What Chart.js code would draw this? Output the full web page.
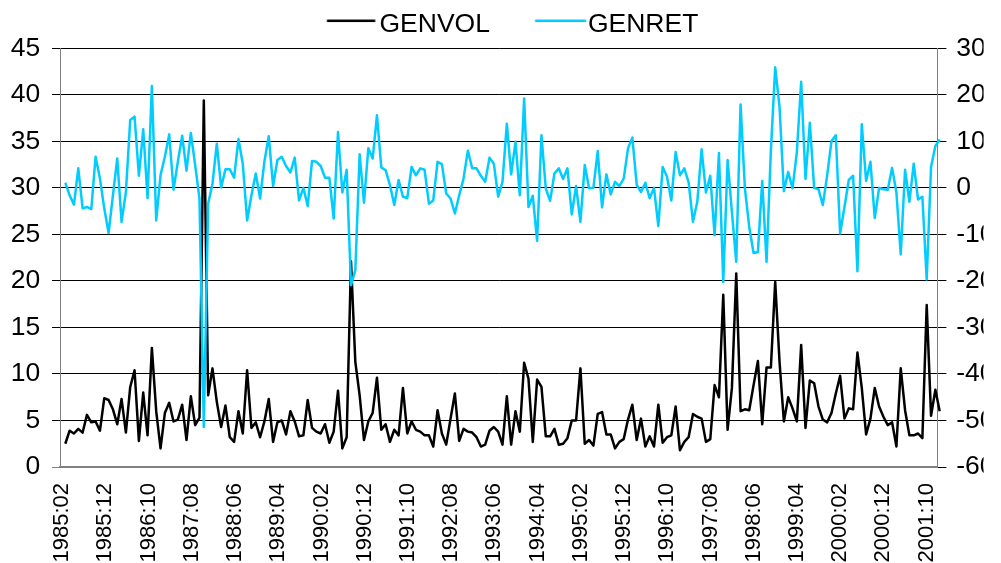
<!DOCTYPE html>
<html><head><meta charset="utf-8">
<script src="https://cdn.jsdelivr.net/npm/chart.js@4.4.1/dist/chart.umd.min.js"></script>
<style>html,body{margin:0;padding:0;background:#fff;overflow:hidden}canvas{display:block}</style>
</head><body>
<canvas id="c" width="1001" height="563"></canvas>
<script>
const months = [
'1985:02','1985:03','1985:04','1985:05','1985:06','1985:07','1985:08','1985:09','1985:10','1985:11','1985:12',
'1986:01','1986:02','1986:03','1986:04','1986:05','1986:06','1986:07','1986:08','1986:09','1986:10','1986:11','1986:12',
'1987:01','1987:02','1987:03','1987:04','1987:05','1987:06','1987:07','1987:08','1987:09','1987:10','1987:11','1987:12',
'1988:01','1988:02','1988:03','1988:04','1988:05','1988:06','1988:07','1988:08','1988:09','1988:10','1988:11','1988:12',
'1989:01','1989:02','1989:03','1989:04','1989:05','1989:06','1989:07','1989:08','1989:09','1989:10','1989:11','1989:12',
'1990:01','1990:02','1990:03','1990:04','1990:05','1990:06','1990:07','1990:08','1990:09','1990:10','1990:11','1990:12',
'1991:01','1991:02','1991:03','1991:04','1991:05','1991:06','1991:07','1991:08','1991:09','1991:10','1991:11','1991:12',
'1992:01','1992:02','1992:03','1992:04','1992:05','1992:06','1992:07','1992:08','1992:09','1992:10','1992:11','1992:12',
'1993:01','1993:02','1993:03','1993:04','1993:05','1993:06','1993:07','1993:08','1993:09','1993:10','1993:11','1993:12',
'1994:01','1994:02','1994:03','1994:04','1994:05','1994:06','1994:07','1994:08','1994:09','1994:10','1994:11','1994:12',
'1995:01','1995:02','1995:03','1995:04','1995:05','1995:06','1995:07','1995:08','1995:09','1995:10','1995:11','1995:12',
'1996:01','1996:02','1996:03','1996:04','1996:05','1996:06','1996:07','1996:08','1996:09','1996:10','1996:11','1996:12',
'1997:01','1997:02','1997:03','1997:04','1997:05','1997:06','1997:07','1997:08','1997:09','1997:10','1997:11','1997:12',
'1998:01','1998:02','1998:03','1998:04','1998:05','1998:06','1998:07','1998:08','1998:09','1998:10','1998:11','1998:12',
'1999:01','1999:02','1999:03','1999:04','1999:05','1999:06','1999:07','1999:08','1999:09','1999:10','1999:11','1999:12',
'2000:01','2000:02','2000:03','2000:04','2000:05','2000:06','2000:07','2000:08','2000:09','2000:10','2000:11','2000:12',
'2001:01','2001:02','2001:03','2001:04','2001:05','2001:06','2001:07','2001:08','2001:09','2001:10','2001:11','2001:12'
];
const tickLabels = ['1985:02','1985:12','1986:10','1987:08','1988:06','1989:04','1990:02','1990:12','1991:10','1992:08','1993:06','1994:04','1995:02','1995:12','1996:10','1997:08','1998:06','1999:04','2000:02','2000:12','2001:10'];
const genvol = [
2.5,3.9,3.6,4.1,3.7,5.6,4.8,4.9,3.9,7.4,7.2,6.2,4.6,7.3,3.7,8.6,10.4,2.8,8.0,3.4,
12.8,6.0,2.0,5.8,6.9,4.9,5.1,6.7,2.9,7.6,4.5,5.3,39.4,7.7,10.6,7.0,4.3,6.6,3.2,2.7,
6.0,3.6,10.4,4.2,4.8,3.2,4.9,7.3,2.7,4.8,5.0,3.5,6.0,4.9,3.3,3.4,7.2,4.2,3.8,3.6,
4.6,2.6,3.8,8.2,2.0,3.2,22.1,11.3,7.7,2.9,4.9,5.8,9.6,4.0,4.6,2.7,4.0,3.4,8.5,3.6,
4.9,4.0,3.8,3.4,3.4,2.2,6.1,3.6,2.4,5.2,7.9,2.8,4.1,3.8,3.7,3.2,2.2,2.4,3.9,4.3,
3.8,2.4,7.6,2.4,6.0,3.8,11.2,9.5,2.7,9.4,8.6,3.3,3.3,4.1,2.4,2.5,3.1,5.0,5.0,10.6,
2.5,2.9,2.3,5.7,5.9,3.5,3.5,2.0,2.7,3.0,5.1,6.7,2.9,5.2,2.2,3.3,2.2,6.7,2.6,3.2,
3.4,6.5,1.8,2.7,3.2,5.7,5.4,5.2,2.7,3.0,8.8,7.5,18.5,4.0,8.5,20.8,6.0,6.2,6.1,8.8,
11.4,4.6,10.7,10.7,19.9,11.3,4.9,7.5,6.3,4.9,13.1,4.2,9.3,9.0,6.5,5.1,4.8,5.8,7.9,9.8,
5.2,6.3,6.2,12.3,8.5,3.5,5.2,8.5,6.5,5.4,4.5,4.8,2.2,10.6,6.1,3.4,3.4,3.6,3.1,17.4,
5.5,8.3,6.0
];
const genret = [
1.1,-1.6,-3.6,4.2,-4.4,-4.1,-4.6,6.7,2.0,-4.4,-9.7,-1.6,6.3,-7.3,-0.9,14.6,15.3,2.6,12.6,-2.2,
21.9,-7.0,2.7,6.7,11.5,-0.4,5.6,11.2,3.7,11.8,4.9,-2.3,-51.4,-3.4,0.9,9.5,0.1,4.0,4.0,2.2,
10.5,5.2,-7.0,-1.6,3.1,-2.3,5.7,11.1,0.4,6.0,6.7,4.7,3.3,6.5,-2.7,0.0,-3.9,5.8,5.6,4.7,
2.2,2.2,-6.6,12.0,-1.0,3.9,-20.9,-17.7,7.2,-3.2,8.5,6.3,15.6,4.4,3.8,0.6,-3.7,1.7,-1.9,-2.2,
4.5,2.7,4.2,3.9,-3.4,-2.7,5.6,5.1,-1.2,-2.3,-5.5,-1.6,2.0,8.0,4.2,4.2,2.6,1.3,6.5,5.2,
-1.9,1.3,13.8,2.9,9.9,-1.6,19.2,-4.1,-1.7,-11.4,11.3,-0.1,-2.8,3.1,4.2,1.9,4.2,-5.7,0.4,-7.3,
4.9,-0.1,0.0,7.9,-4.2,2.9,-1.4,1.3,0.4,2.0,8.5,10.8,0.7,-0.9,1.1,-2.2,0.0,-8.2,4.5,2.4,
-2.7,7.7,2.7,4.2,1.2,-7.3,-3.0,8.3,-1.0,2.6,-10.2,7.5,-20.2,6.0,-5.2,-15.9,17.9,-0.1,-8.4,-14.0,
-13.8,1.5,-15.9,8.0,25.9,17.4,-0.7,3.4,-0.1,7.7,22.8,1.9,14.0,0.0,-0.3,-3.7,2.7,10.0,11.3,-9.8,
-4.1,1.7,2.6,-17.9,13.7,1.5,5.6,-6.5,0.0,-0.3,-0.4,4.3,-1.0,-14.3,3.9,-3.0,5.2,-2.5,-1.9,-19.7,
4.5,9.0,10.4
];

const FONT = "'Liberation Sans', Arial, sans-serif";
const BLACK = '#000000';
const CYAN = '#00CCFF';

function legendLine(color, x0, x1) {
  const c = document.createElement('canvas');
  c.width = 108; c.height = 20;
  const g = c.getContext('2d');
  g.strokeStyle = color; g.lineWidth = 2.5;
  g.beginPath(); g.moveTo(x0, 5.8); g.lineTo(x1, 5.8); g.stroke();
  return c;
}
const legendImgs = [legendLine(BLACK, 55.2, 103.5), legendLine(CYAN, 54.8, 105.8)];

new Chart(document.getElementById('c'), {
  type: 'line',
  data: {
    labels: months,
    datasets: [
      { label: 'GENVOL', data: genvol.map((v, i) => ({ x: i, y: v })), xAxisID: 'xd', yAxisID: 'y',
        borderColor: BLACK, backgroundColor: BLACK, borderWidth: 2.5, pointRadius: 0, tension: 0,
        borderJoinStyle: 'round', order: 1, clip: false },
      { label: 'GENRET', data: genret.map((v, i) => ({ x: i, y: v })), xAxisID: 'xd', yAxisID: 'y1',
        borderColor: CYAN, backgroundColor: CYAN, borderWidth: 2.5, pointRadius: 0, tension: 0,
        borderJoinStyle: 'round', order: 0, clip: false }
    ]
  },
  options: {
    responsive: false, animation: false, devicePixelRatio: 1,
    layout: { padding: { left: 0, right: 17.4, top: 0, bottom: 0 } },
    plugins: {
      tooltip: { enabled: false },
      legend: {
        position: 'top', align: 'center',
        labels: {
          usePointStyle: true, pointStyleWidth: 81, padding: 3.75, color: '#000',
          font: { family: FONT, size: 26.5 },
          generateLabels(chart) {
            const items = Chart.defaults.plugins.legend.labels.generateLabels(chart);
            items.sort((a, b) => a.datasetIndex - b.datasetIndex);
            items.forEach(it => { it.pointStyle = legendImgs[it.datasetIndex]; });
            return items;
          }
        }
      }
    },
    scales: {
      x: {
        type: 'category', position: 'bottom', offset: true,
        grid: { display: false, drawTicks: false },
        border: { display: true, color: '#808080', width: 2 },
        ticks: {
          autoSkip: false, maxRotation: 90, minRotation: 90, padding: 16, color: '#000',
          font: { family: FONT, size: 22 },
          callback(value) { const l = this.getLabelForValue(value); return tickLabels.includes(l) ? l : null; }
        },
        afterFit(s) { s.height = 96; }
      },
      xd: { type: 'linear', display: false, min: -1.224, max: 201.47 },
      y: {
        position: 'left', min: 0, max: 45,
        ticks: { stepSize: 5, padding: 11.7, color: '#000', font: { family: FONT, size: 26.5 } },
        grid: { color: (c) => (c.tick && c.tick.value === 0) ? '#808080' : '#000', lineWidth: 1, tickLength: 8 },
        border: { color: '#808080', width: 1 },
        afterFit(s) { s.width = 60; s.paddingTop = 48.3; }
      },
      y1: {
        position: 'right', min: -60, max: 30,
        ticks: { stepSize: 10, padding: 9.8, color: '#000', font: { family: FONT, size: 26.5 } },
        grid: { drawOnChartArea: false, color: '#000', lineWidth: 1, tickLength: 9 },
        border: { color: '#808080', width: 1 },
        afterFit(s) { s.width = 46.2; }
      }
    }
  }
});
</script>
</body></html>
